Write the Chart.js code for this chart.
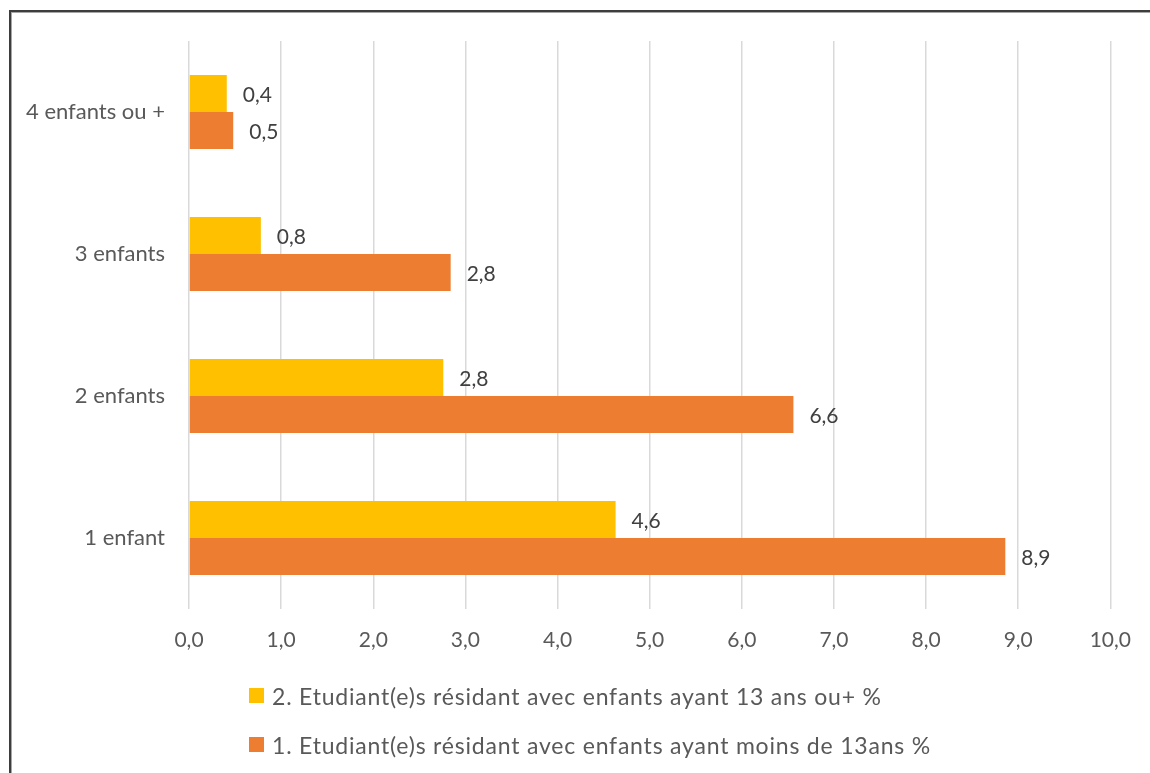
<!DOCTYPE html>
<html>
<head>
<meta charset="utf-8">
<script src="https://cdn.jsdelivr.net/npm/chart.js@4.4.0/dist/chart.umd.min.js"></script>
<style>
  html, body { margin: 0; padding: 0; background: #ffffff; }
  body { width: 1150px; height: 773px; position: relative; overflow: hidden; font-family: Lato, "Open Sans", sans-serif; }
  #frame { position: absolute; left: 9px; top: 10px; width: 1300px; height: 900px;
           border-top: 2px solid #3d3d3d; border-left: 2px solid #3d3d3d;
           box-shadow: inset 1px 1px 0 #a6a6a6; }
  #wrap { position: absolute; left: 0; top: 0; width: 1150px; height: 672px; }
  #legend { position: absolute; left: 249px; top: 671px; }
  .row { display: flex; align-items: center; height: 49px; font-size: 23px; letter-spacing: 0.8px; color: #595959; }
  .sw { width: 15px; height: 15px; margin-right: 8px; flex: none; }
</style>
</head>
<body>
<div id="frame"></div>
<div id="wrap"><canvas id="c"></canvas></div>
<div id="legend"></div>
<script>
const categories = ['4 enfants ou +', '3 enfants', '2 enfants', '1 enfant'];
const seriesNames = [
  '2. Etudiant(e)s résidant avec enfants ayant 13 ans ou+ %',
  '1. Etudiant(e)s résidant avec enfants ayant moins de 13ans %'
];
const over13 = [0.41, 0.78, 2.76, 4.63];
const under13 = [0.48, 2.84, 6.56, 8.86];
const xTicksMin = 0;
const xTicksMax = 10;
const seriesColors = ['#FFC000', '#ED7D31'];

const fmt = v => (Math.round(v * 10) / 10).toFixed(1).replace('.', ',');
const FONT = 'Lato, "Open Sans", sans-serif';

const valueLabels = {
  id: 'valueLabels',
  afterDatasetsDraw(chart) {
    const ctx = chart.ctx;
    ctx.save();
    ctx.font = '21px ' + FONT;
    ctx.fillStyle = '#404040';
    ctx.textAlign = 'left';
    ctx.textBaseline = 'middle';
    chart.data.datasets.forEach((ds, i) => {
      const meta = chart.getDatasetMeta(i);
      meta.data.forEach((el, j) => {
        ctx.fillText(fmt(ds.data[j]), el.x + 16, el.y + 1.5);
      });
    });
    ctx.restore();
  }
};

const chart = new Chart(document.getElementById('c'), {
  type: 'bar',
  data: {
    labels: categories,
    datasets: [
      { label: seriesNames[0], data: over13, backgroundColor: seriesColors[0], borderWidth: 0,
        categoryPercentage: 0.52, barPercentage: 1.0 },
      { label: seriesNames[1], data: under13, backgroundColor: seriesColors[1], borderWidth: 0,
        categoryPercentage: 0.52, barPercentage: 1.0 }
    ]
  },
  options: {
    indexAxis: 'y',
    responsive: true,
    maintainAspectRatio: false,
    animation: false,
    layout: { padding: { top: 41, right: 38, bottom: 0, left: 0 } },
    plugins: { legend: { display: false }, tooltip: { enabled: false } },
    scales: {
      x: {
        min: xTicksMin, max: xTicksMax,
        ticks: { stepSize: 1, callback: v => fmt(v), color: '#595959', font: { family: FONT, size: 21 }, padding: 19, maxRotation: 0 },
        grid: { color: '#d9d9d9', lineWidth: 1.5, drawTicks: false },
        border: { display: false },
        afterFit: s => { s.height = 63; }
      },
      y: {
        ticks: { color: '#595959', font: { family: FONT, size: 22 }, padding: 24 },
        grid: { display: false, drawTicks: false },
        border: { display: false },
        afterFit: s => { s.width = 189; }
      }
    }
  },
  plugins: [valueLabels]
});

const leg = document.getElementById('legend');
seriesNames.forEach((name, i) => {
  const row = document.createElement('div');
  row.className = 'row';
  const sw = document.createElement('span');
  sw.className = 'sw';
  sw.style.background = seriesColors[i];
  const tx = document.createElement('span');
  tx.textContent = name;
  row.appendChild(sw); row.appendChild(tx);
  leg.appendChild(row);
});
</script>
</body>
</html>
